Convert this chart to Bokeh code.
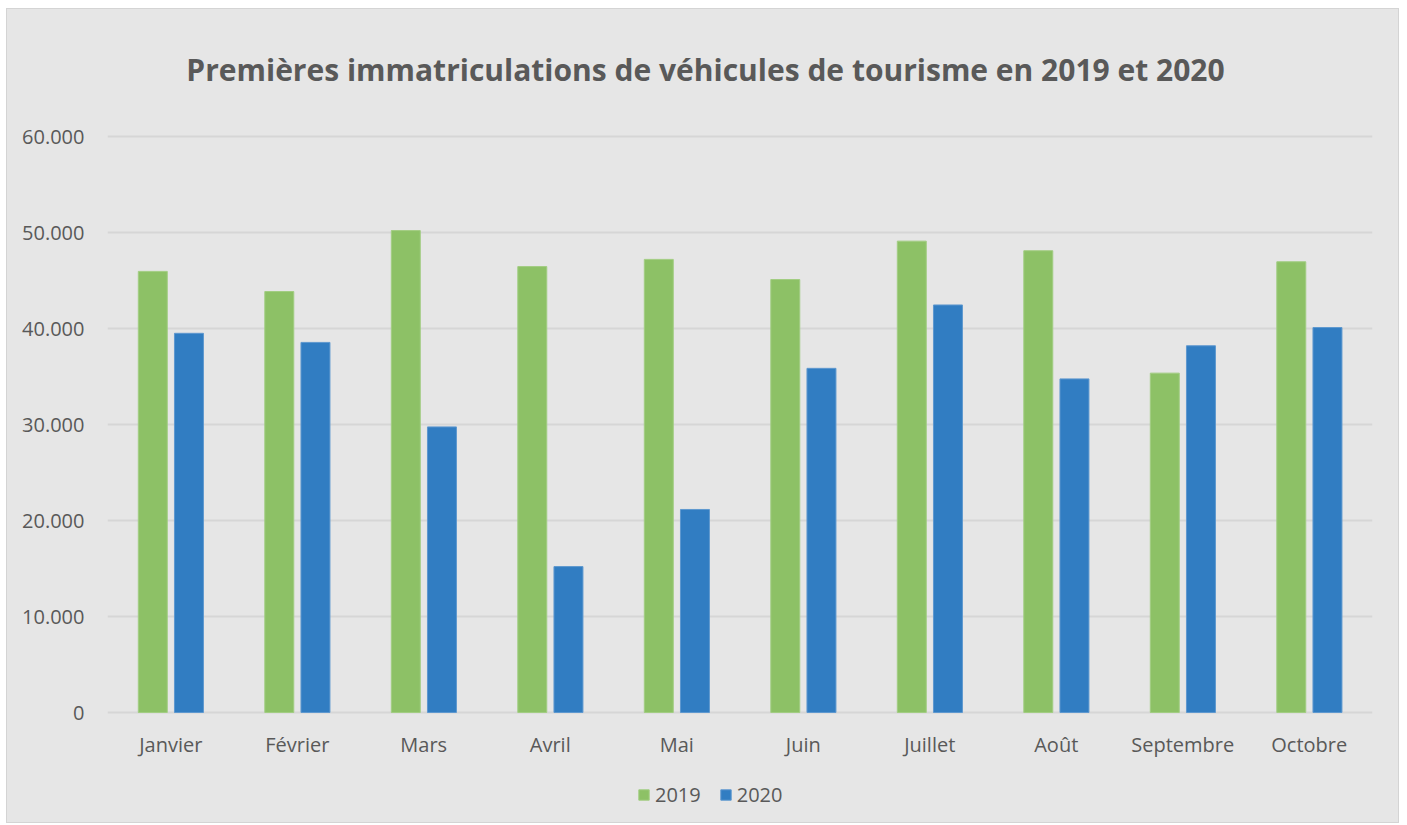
from bokeh.plotting import figure
from bokeh.models import ColumnDataSource, FactorRange, Range1d, Legend, LegendItem, CustomJSTickFormatter, FixedTicker, Label
from bokeh.core.properties import value
from bokeh.transform import dodge
from bokeh.embed import file_html
from bokeh.resources import INLINE

months = ["Janvier", "Février", "Mars", "Avril", "Mai", "Juin", "Juillet", "Août", "Septembre", "Octobre"]
y2019 = [45950, 43850, 50200, 46450, 47200, 45100, 49100, 48100, 35350, 46950]
y2020 = [39500, 38550, 29750, 15200, 21150, 35850, 42450, 34750, 38200, 40100]
y_ticks = [0, 10000, 20000, 30000, 40000, 50000, 60000]
series_names = ["2019", "2020"]
colors = ["#8DC166", "#317DC2"]
title_text = "Premières immatriculations de véhicules de tourisme en 2019 et 2020"

src = ColumnDataSource(dict(month=months, y2019=y2019, y2020=y2020, base=[0] * len(months)))

BG = "#E6E6E6"
TXT = "#595959"
FONT = "Open Sans"

# the frame covers the whole height so the title, category labels and legend live inside it
Y_MAX = 60000
PLOT_PX = 576      # pixels from 0 to Y_MAX
BELOW_PX = 112     # pixels below the zero line
ABOVE_PX = 127     # pixels above Y_MAX
y_start = -Y_MAX * BELOW_PX / PLOT_PX
y_end = Y_MAX + Y_MAX * ABOVE_PX / PLOT_PX

p = figure(width=1393, height=815, x_range=FactorRange(*months), y_range=Range1d(y_start, y_end),
           output_backend="svg", toolbar_location=None,
           min_border_left=100, min_border_right=28, min_border_top=0, min_border_bottom=0,
           background_fill_color=BG, border_fill_color=BG, outline_line_color=None,
           styles={"border": "1px solid #D4D4D4", "margin-left": "6px", "margin-top": "8px",
                   "background-color": BG})

title = Label(x=598, y=755, x_units="screen", y_units="screen", text=title_text,
              text_align="center", text_baseline="middle", text_font=FONT,
              text_font_size="30px", text_font_style="bold", text_color=TXT)
p.add_layout(title)

r1 = p.vbar(x=dodge("month", -0.142, range=p.x_range), top="y2019", width=0.229, source=src,
            fill_color=colors[0], line_color="#A2CD82", line_width=1)
r2 = p.vbar(x=dodge("month", 0.144, range=p.x_range), top="y2020", width=0.229, source=src,
            fill_color=colors[1], line_color="#5E98CF", line_width=1)

# category labels under the zero line
p.text(x="month", y="base", text="month", source=src, y_offset=32,
       text_align="center", text_baseline="middle",
       text_font=value(FONT), text_font_size="20px", text_color=TXT)

p.xaxis.visible = False

p.yaxis.ticker = FixedTicker(ticks=y_ticks)
p.yaxis.formatter = CustomJSTickFormatter(code="return tick.toString().replace(/\\B(?=(\\d{3})+(?!\\d))/g, '.');")
p.yaxis.axis_line_color = None
p.yaxis.major_tick_line_color = None
p.yaxis.minor_tick_line_color = None
p.yaxis.major_label_standoff = 17
p.yaxis.major_label_text_font = FONT
p.yaxis.major_label_text_font_size = "20px"
p.yaxis.major_label_text_color = TXT

p.xgrid.grid_line_color = None
p.ygrid.grid_line_color = "#D6D6D6"
p.ygrid.grid_line_width = 2

legend = Legend(items=[LegendItem(label=series_names[0], renderers=[r1]),
                       LegendItem(label=series_names[1], renderers=[r2])],
                orientation="horizontal", location=(530, 16), padding=0, margin=0,
                glyph_width=13, glyph_height=13, label_standoff=5, spacing=18,
                label_text_font=FONT, label_text_font_size="20px", label_text_color=TXT,
                background_fill_alpha=0, border_line_color=None)
p.add_layout(legend)

open("out.html", "w").write(file_html(p, INLINE))
